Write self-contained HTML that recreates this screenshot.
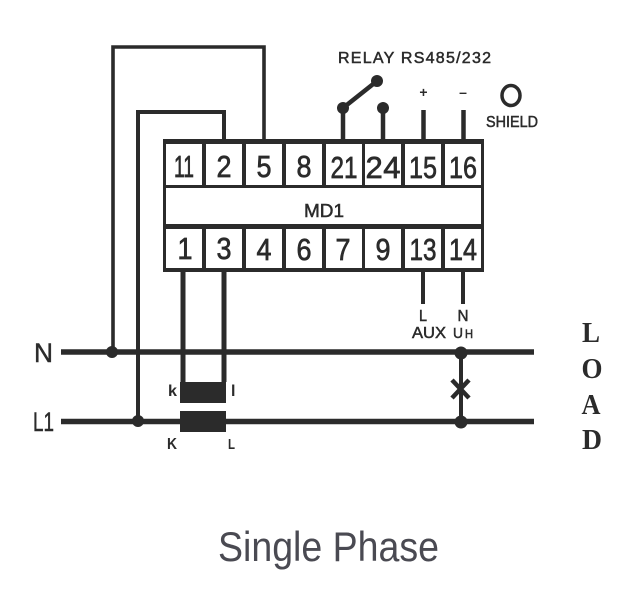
<!DOCTYPE html>
<html>
<head>
<meta charset="utf-8">
<style>
html,body{margin:0;padding:0;background:#fff;width:632px;height:592px;overflow:hidden}
svg{display:block}
text{font-family:"Liberation Sans",sans-serif;fill:#2b2b2b}
.n{font-size:31px;text-anchor:middle;stroke:#2b2b2b;stroke-width:.7px}
.s{font-weight:bold}
.t{stroke:#2b2b2b;stroke-width:.5px}
.l{font-family:"Liberation Serif",serif;font-weight:bold;font-size:29px;text-anchor:middle}
</style>
</head>
<body>
<svg width="632" height="592" viewBox="0 0 632 592" xmlns="http://www.w3.org/2000/svg">
<rect width="632" height="592" fill="#fff"/>
<g fill="none" stroke="#2b2b2b" stroke-linejoin="miter">
  <path d="M113 352V47H264V140" stroke-width="3.6"/>
  <path d="M138 421V112H224V140" stroke-width="4"/>
  <path d="M183 271V382M224 271V382" stroke-width="5"/>
  <path d="M343 140V108L377 81" stroke-width="4.5"/>
  <path d="M383 140V108M423.500 140V110M463.500 140V110" stroke-width="4.500"/>
  <path d="M423 271V304M463 271V304" stroke-width="4"/>
  <path d="M61 352H534M61 421.500H534" stroke-width="5.500"/>
  <path d="M461 353V422" stroke-width="4"/>
  <path d="M452 380L469 398M469 380L452 398" stroke-width="4.500"/>
  <ellipse cx="511" cy="95.500" rx="9" ry="10" stroke-width="3.500"/>
</g>
<g fill="#2b2b2b">
  <rect x="163" y="139" width="321" height="133"/>
  <rect x="180" y="382" width="46" height="21"/>
  <rect x="180" y="411" width="46" height="21"/>
  <circle cx="112" cy="352" r="6"/>
  <circle cx="138" cy="421" r="6"/>
  <circle cx="461" cy="353" r="6.500"/>
  <circle cx="461" cy="422" r="6.500"/>
  <circle cx="343" cy="108" r="6"/>
  <circle cx="377" cy="81" r="6"/>
  <circle cx="383" cy="108" r="6"/>
</g>
<g fill="#fff">
  <rect x="166" y="144" width="36" height="41"/>
  <rect x="206" y="144" width="36" height="41"/>
  <rect x="246" y="144" width="36" height="41"/>
  <rect x="286" y="144" width="36" height="41"/>
  <rect x="326" y="144" width="36" height="41"/>
  <rect x="365" y="144" width="36" height="41"/>
  <rect x="405" y="144" width="36" height="41"/>
  <rect x="445" y="144" width="36" height="41"/>
  <rect x="166" y="188" width="315" height="36"/>
  <rect x="166" y="229" width="36" height="39"/>
  <rect x="206" y="229" width="36" height="39"/>
  <rect x="246" y="229" width="36" height="39"/>
  <rect x="286" y="229" width="36" height="39"/>
  <rect x="326" y="229" width="36" height="39"/>
  <rect x="365" y="229" width="36" height="39"/>
  <rect x="405" y="229" width="36" height="39"/>
  <rect x="445" y="229" width="36" height="39"/>
</g>
<g>
  <text class="n" x="184" y="177" textLength="20" lengthAdjust="spacingAndGlyphs">11</text>
  <text class="n" x="224" y="177" textLength="15" lengthAdjust="spacingAndGlyphs">2</text>
  <text class="n" x="264" y="177" textLength="15" lengthAdjust="spacingAndGlyphs">5</text>
  <text class="n" x="304" y="177" textLength="15" lengthAdjust="spacingAndGlyphs">8</text>
  <text class="n" x="344" y="178" textLength="27" lengthAdjust="spacingAndGlyphs">21</text>
  <text class="n" x="383" y="178" textLength="35" lengthAdjust="spacing">24</text>
  <text class="n" x="423" y="178" textLength="28" lengthAdjust="spacingAndGlyphs">15</text>
  <text class="n" x="463" y="178" textLength="28" lengthAdjust="spacingAndGlyphs">16</text>
  <text class="n" x="185" y="259" textLength="15" lengthAdjust="spacingAndGlyphs">1</text>
  <text class="n" x="224" y="259" textLength="15" lengthAdjust="spacingAndGlyphs">3</text>
  <text class="n" x="264" y="260" textLength="15" lengthAdjust="spacingAndGlyphs">4</text>
  <text class="n" x="304" y="260" textLength="15" lengthAdjust="spacingAndGlyphs">6</text>
  <text class="n" x="343" y="260" textLength="15" lengthAdjust="spacingAndGlyphs">7</text>
  <text class="n" x="383" y="260" textLength="15" lengthAdjust="spacingAndGlyphs">9</text>
  <text class="n" x="423" y="260" textLength="27" lengthAdjust="spacingAndGlyphs">13</text>
  <text class="n" x="463" y="260" textLength="28" lengthAdjust="spacingAndGlyphs">14</text>
</g>
<text x="304" y="217" font-size="18" class="t" textLength="40" lengthAdjust="spacingAndGlyphs">MD1</text>
<text x="338" y="63" font-size="16" class="t" textLength="153" lengthAdjust="spacing">RELAY RS485/232</text>
<text x="423.500" y="97" font-size="14" text-anchor="middle" class="s">+</text>
<text x="463" y="97" font-size="14" text-anchor="middle" class="s">–</text>
<text x="486" y="127" font-size="16" class="t" textLength="52" lengthAdjust="spacingAndGlyphs">SHIELD</text>
<text x="423" y="321" font-size="16" text-anchor="middle" class="t" textLength="8" lengthAdjust="spacingAndGlyphs">L</text>
<text x="412" y="338" font-size="16" class="t" textLength="34" lengthAdjust="spacingAndGlyphs">AUX</text>
<text x="463" y="321" font-size="16" text-anchor="middle" class="t" textLength="11" lengthAdjust="spacingAndGlyphs">N</text>
<text x="458" y="338" font-size="15" text-anchor="middle" class="t" textLength="10" lengthAdjust="spacingAndGlyphs">U</text>
<text x="469" y="338" font-size="12" text-anchor="middle" class="t" textLength="8" lengthAdjust="spacingAndGlyphs">H</text>
<text x="34" y="362" font-size="27" class="t" textLength="19" lengthAdjust="spacingAndGlyphs">N</text>
<text x="33" y="431" font-size="27" class="t" textLength="21" lengthAdjust="spacingAndGlyphs">L1</text>
<text x="168" y="396" font-size="16" class="s" textLength="9" lengthAdjust="spacingAndGlyphs">k</text>
<text x="231" y="396" font-size="16" class="s">l</text>
<text x="167" y="449" font-size="16" class="s" textLength="10" lengthAdjust="spacingAndGlyphs">K</text>
<text x="228" y="449" font-size="15" class="s" textLength="7" lengthAdjust="spacingAndGlyphs">L</text>
<text class="l" x="591" y="342" textLength="18" lengthAdjust="spacingAndGlyphs">L</text>
<text class="l" x="592" y="378" textLength="21" lengthAdjust="spacingAndGlyphs">O</text>
<text class="l" x="591" y="414" textLength="19" lengthAdjust="spacingAndGlyphs">A</text>
<text class="l" x="592" y="449" textLength="20" lengthAdjust="spacingAndGlyphs">D</text>
<text x="218" y="561" font-size="42" style="fill:#4a4a52" textLength="221" lengthAdjust="spacingAndGlyphs">Single Phase</text>
</svg>
</body>
</html>
